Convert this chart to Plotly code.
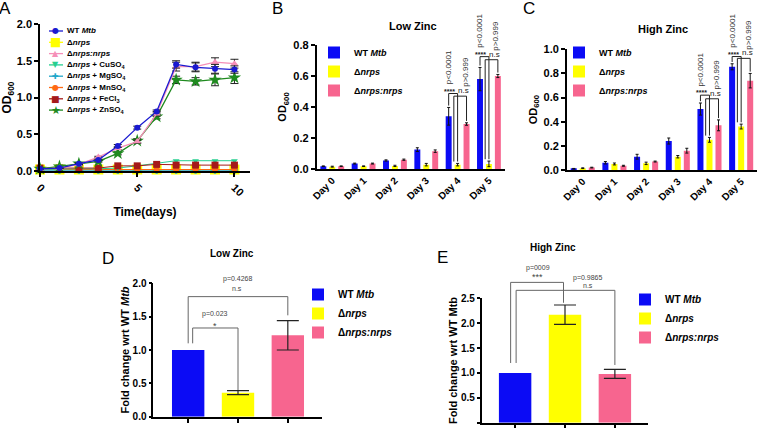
import plotly.graph_objects as go

F = "Liberation Sans, Arial, sans-serif"
W, H = 760, 428

# ---------------- Panel A data (OD600 vs time) ----------------
days_a = [0, 1, 2, 3, 4, 5, 6, 7, 8, 9, 10]
od_wt = [0.03, 0.04, 0.10, 0.15, 0.34, 0.59, 0.81, 1.45, 1.41, 1.39, 1.38]
od_wt_err = [0.005, 0.005, 0.01, 0.01, 0.02, 0.02, 0.02, 0.05, 0.06, 0.06, 0.05]
od_nrps = [0.02, 0.02, 0.02, 0.02, 0.02, 0.02, 0.02, 0.02, 0.02, 0.02, 0.02]
od_comp = [0.03, 0.04, 0.09, 0.19, 0.31, 0.40, 0.78, 1.42, 1.42, 1.48, 1.46]
od_comp_err = [0.005, 0.005, 0.01, 0.01, 0.02, 0.02, 0.03, 0.06, 0.06, 0.06, 0.06]
od_cu = [0.02, 0.03, 0.03, 0.03, 0.04, 0.07, 0.11, 0.14, 0.14, 0.14, 0.14]
od_mg = [0.01, 0.01, 0.01, 0.01, 0.01, 0.01, 0.01, 0.01, 0.01, 0.01, 0.01]
od_mn = [0.02, 0.02, 0.02, 0.02, 0.02, 0.02, 0.02, 0.02, 0.02, 0.02, 0.02]
od_fe = [0.04, 0.04, 0.04, 0.04, 0.07, 0.07, 0.09, 0.08, 0.08, 0.08, 0.08]
od_zn = [0.03, 0.06, 0.10, 0.13, 0.24, 0.41, 0.74, 1.24, 1.22, 1.24, 1.27]
od_zn_err = [0.005, 0.005, 0.01, 0.01, 0.02, 0.03, 0.03, 0.05, 0.05, 0.08, 0.08]

a_labels = ["WT <i>Mtb</i>", "Δ<i>nrps</i>", "Δ<i>nrps:nrps</i>",
            "Δ<i>nrps</i> + CuSO<sub>4</sub>", "Δ<i>nrps</i> + MgSO<sub>4</sub>",
            "Δ<i>nrps</i> + MnSO<sub>4</sub>", "Δ<i>nrps</i> + FeCl<sub>3</sub>",
            "Δ<i>nrps</i> + ZnSO<sub>4</sub>"]

# ---------------- Panels B/C data (daily OD600) ----------------
day_labels = ["Day 0", "Day 1", "Day 2", "Day 3", "Day 4", "Day 5"]
day_idx = [0, 1, 2, 3, 4, 5]
bar_labels = ["WT <i>Mtb</i>", "Δ<i>nrps</i>", "Δ<i>nrps:nrps</i>"]

low_wt = [0.018, 0.035, 0.055, 0.125, 0.34, 0.58]
low_wt_err = [0.002, 0.003, 0.004, 0.012, 0.057, 0.075]
low_nrps = [0.015, 0.018, 0.02, 0.028, 0.028, 0.033]
low_nrps_err = [0.003, 0.002, 0.004, 0.008, 0.008, 0.018]
low_comp = [0.018, 0.035, 0.06, 0.115, 0.29, 0.60]
low_comp_err = [0.002, 0.003, 0.004, 0.008, 0.008, 0.01]

high_wt = [0.01, 0.06, 0.11, 0.24, 0.505, 0.855]
high_wt_err = [0.003, 0.01, 0.02, 0.025, 0.05, 0.025]
high_nrps = [0.015, 0.05, 0.055, 0.11, 0.25, 0.36]
high_nrps_err = [0.003, 0.008, 0.01, 0.01, 0.02, 0.02]
high_comp = [0.02, 0.035, 0.07, 0.16, 0.37, 0.74]
high_comp_err = [0.003, 0.004, 0.004, 0.02, 0.045, 0.06]

# ---------------- Panels D/E data (fold change) ----------------
strain_idx = [0, 1, 2]
fold_low = [1.0, 0.36, 1.22]
fold_low_err = [0.0, 0.03, 0.22]
fold_high = [1.0, 2.17, 0.98]
fold_high_err = [0.0, 0.195, 0.09]

# significance annotations
sig_low = [  # day, from-bar, to-bar, bracket height, mark, p-text, p-text bar
    (4, 0, 1, 0.487, "****", "p&lt;0.0001", 0),
    (4, 1, 2, 0.470, "n.s", "p&gt;0.999", 2),
    (5, 0, 1, 0.725, "****", "p&lt;0.0001", 0),
    (5, 1, 2, 0.705, "n.s", "p&gt;0.999", 2),
]
sig_high = [
    (4, 0, 1, 0.62, "****", "p&lt;0.0001", 0),
    (4, 1, 2, 0.59, "n.s", "p&gt;0.999", 2),
    (5, 0, 1, 0.94, "****", "p&lt;0.0001", 0),
    (5, 1, 2, 0.925, "n.s", "p&gt;0.999", 2),
]

BLUE = "#0b0bf5"
YEL = "#ffff00"
PINK = "#f7658f"


def px(x):
    return x / W


def py(y):
    return 1 - y / H


fig = go.Figure()

# ---------------- Panel A traces ----------------
a_styles = [  # draw order: back to front
    (1, od_nrps, None, YEL, "square", 10, 1.0),
    (4, od_mg, None, "#22a7c9", "cross", 6, 1.0),
    (5, od_mn, None, "#ff6a13", "circle", 6, 1.0),
    (3, od_cu, None, "#27cf90", "triangle-down", 6, 1.0),
    (6, od_fe, None, "#a51919", "square", 7, 1.0),
    (7, od_zn, od_zn_err, "#1f8a1f", "star", 10, 1.3),
    (2, od_comp, od_comp_err, "#f58fb8", "triangle-up", 7, 1.3),
    (0, od_wt, od_wt_err, "#1a1ad0", "circle", 6, 1.3),
]
for idx, ys, err, col, sym, size, lw in a_styles:
    fig.add_trace(go.Scatter(
        x=days_a, y=ys, mode="lines+markers", xaxis="x", yaxis="y",
        line=dict(color=col, width=lw),
        marker=dict(color=col, symbol=sym, size=size, line=dict(width=0)),
        error_y=(dict(type="data", array=err, color="#222", thickness=1, width=4)
                 if err else None),
        cliponaxis=False, showlegend=False, name=a_labels[idx]))

# ---------------- Panels B/C traces ----------------
off = [-0.285, 0.0, 0.285]
bw = 0.19
cols = [BLUE, YEL, PINK]
for panel, (vals, errs, xa, ya, lg) in enumerate([
    ([low_wt, low_nrps, low_comp], [low_wt_err, low_nrps_err, low_comp_err], "x2", "y2", "legend"),
    ([high_wt, high_nrps, high_comp], [high_wt_err, high_nrps_err, high_comp_err], "x3", "y3", "legend2"),
]):
    for i in range(3):
        fig.add_trace(go.Bar(
            x=day_idx, y=vals[i], xaxis=xa, yaxis=ya, name=bar_labels[i],
            offset=off[i] - bw / 2, width=bw, marker=dict(color=cols[i], line=dict(width=0)),
            error_y=dict(type="data", array=errs[i], color="#111", thickness=1, width=1.5),
            legend=lg))

# ---------------- Panels D/E traces ----------------
for vals, errs, xa, ya, lg in [
    (fold_low, fold_low_err, "x4", "y4", "legend3"),
    (fold_high, fold_high_err, "x5", "y5", "legend4"),
]:
    for i in range(3):
        fig.add_trace(go.Bar(
            x=[strain_idx[i]], y=[vals[i]], xaxis=xa, yaxis=ya, name=bar_labels[i],
            width=0.65, marker=dict(color=cols[i], line=dict(width=0)),
            error_y=dict(type="data", array=[errs[i]], color="#222", thickness=1.2, width=11,
                         visible=errs[i] > 0),
            legend=lg))

# ---------------- axes ----------------
def ax_style(**kw):
    d = dict(showline=True, linecolor="black", linewidth=1.6, ticks="outside",
             tickcolor="black", tickwidth=1.5, ticklen=4, showgrid=False,
             zeroline=False, automargin=False,
             tickfont=dict(family=F, size=11, color="black", weight="bold"))
    d.update(kw)
    return d


ttl = lambda t, s, st: dict(text=t, font=dict(family=F, size=s, color="black", weight="bold"), standoff=st)

fig.update_layout(
    width=W, height=H, margin=dict(l=0, r=0, t=0, b=0),
    plot_bgcolor="white", paper_bgcolor="white", barmode="overlay",
    font=dict(family=F, color="black"),
    xaxis=ax_style(domain=[px(40), px(250)], range=[0, 10.8], anchor="y",
                   tickvals=[0, 5, 10], tickangle=45, title=ttl("Time(days)", 12, 10)),
    yaxis=ax_style(domain=[py(171), py(24)], range=[0, 2.0], anchor="x",
                   dtick=0.5, tickformat=".1f", title=ttl("OD<sub>600</sub>", 12, 4)),
    xaxis2=ax_style(domain=[px(316.6), px(504.6)], range=[-0.5, 5.5], anchor="y2",
                    tickvals=day_idx, ticktext=day_labels, tickangle=-45, ticks="",
                    tickfont=dict(family=F, size=10, color="black", weight="bold")),
    yaxis2=ax_style(domain=[py(169), py(45)], range=[0, 0.8], anchor="x2",
                    dtick=0.2, tickformat=".1f", title=ttl("OD<sub>600</sub>", 11, 4)),
    xaxis3=ax_style(domain=[px(566.9), px(757)], range=[-0.5, 5.5], anchor="y3",
                    tickvals=day_idx, ticktext=day_labels, tickangle=-45, ticks="",
                    tickfont=dict(family=F, size=10, color="black", weight="bold")),
    yaxis3=ax_style(domain=[py(170), py(49.3)], range=[0, 1.0], anchor="x3",
                    dtick=0.2, tickformat=".1f", title=ttl("OD<sub>600</sub>", 11, 4)),
    xaxis4=ax_style(domain=[px(153.3), px(321.7)], range=[-0.7, 2.68], anchor="y4",
                    tickvals=strain_idx, showticklabels=False, ticklen=4),
    yaxis4=ax_style(domain=[py(416.7), py(283.3)], range=[0, 2.0], anchor="x4",
                    dtick=0.5, tickformat=".1f", ticklen=3,
                    tickfont=dict(family=F, size=10, color="black", weight="bold"),
                    title=ttl("Fold change wrt WT <i>Mtb</i>", 11, 1)),
    xaxis5=ax_style(domain=[px(481.7), px(648.3)], range=[-0.67, 2.67], anchor="y5",
                    tickvals=strain_idx, showticklabels=False, ticklen=4),
    yaxis5=ax_style(domain=[py(422.7), py(298.3)], range=[0, 2.5], anchor="x5",
                    dtick=0.5, tickformat=".1f", ticklen=3,
                    tickfont=dict(family=F, size=10, color="black", weight="bold"),
                    title=ttl("Fold change wrt WT Mtb", 11, 1)),
)

leg = lambda x, y, s: dict(x=px(x), y=py(y), xanchor="left", yanchor="top",
                           bgcolor="rgba(0,0,0,0)", tracegroupgap=0,
                           font=dict(family=F, size=s, color="black", weight="bold"))
fig.update_layout(legend=leg(314, 38, 9), legend2=leg(559, 38, 9),
                  legend3=leg(298, 280, 10), legend4=leg(625, 285, 10))

ann = []
shapes = []

# panel letters and titles
for t, x, y in [("A", 5, 8), ("B", 277, 8), ("C", 529, 8), ("D", 108, 258), ("E", 442, 257)]:
    ann.append(dict(text=t, x=px(x), y=py(y), xref="paper", yref="paper", showarrow=False,
                    xanchor="center", yanchor="middle", font=dict(family=F, size=17, color="black")))
for t, x, y, s in [("Low Zinc", 413, 26, 11), ("High Zinc", 663, 29, 11),
                   ("Low Zinc", 232, 253, 10), ("High Zinc", 553, 247, 10)]:
    ann.append(dict(text=t, x=px(x), y=py(y), xref="paper", yref="paper", showarrow=False,
                    xanchor="center", yanchor="middle",
                    font=dict(family=F, size=s, color="black", weight="bold")))

# Panel A legend (manual, compact)
a_key = [  # label index, color, glyph, glyph size
    (0, "#1a1ad0", "●", 8), (1, YEL, "■", 12), (2, "#f58fb8", "▲", 8),
    (3, "#27cf90", "▼", 8), (4, "#22a7c9", "✚", 8), (5, "#ff6a13", "●", 8),
    (6, "#a51919", "■", 9), (7, "#1f8a1f", "★", 11),
]
for k, (li, col, g, gs) in enumerate(a_key):
    yk = 31 + 11.3 * k
    shapes.append(dict(type="line", xref="paper", yref="paper", x0=px(49), x1=px(63),
                       y0=py(yk), y1=py(yk), line=dict(color=col, width=1.3)))
    ann.append(dict(text=g, x=px(56), y=py(yk), xref="paper", yref="paper", showarrow=False,
                    xanchor="center", yanchor="middle",
                    font=dict(family="DejaVu Sans", size=gs, color=col)))
    ann.append(dict(text=a_labels[li], x=px(65), y=py(yk), xref="paper", yref="paper",
                    showarrow=False, xanchor="left", yanchor="middle",
                    font=dict(family=F, size=8, color="black", weight="bold")))

# B/C significance brackets
for sigs, vals, errs, xa, ya, gap in [
    (sig_low, [low_wt, low_nrps, low_comp], [low_wt_err, low_nrps_err, low_comp_err], "x2", "y2", 0.012),
    (sig_high, [high_wt, high_nrps, high_comp], [high_wt_err, high_nrps_err, high_comp_err], "x3", "y3", 0.015),
]:
    for d, a, b, top, mark, ptxt, pbar in sigs:
        xa0 = d + off[a] + (-0.12 if a == 1 else 0)
        xb0 = d + off[b]
        ya0 = vals[a][d] + errs[a][d] + gap
        yb0 = vals[b][d] + errs[b][d] + gap
        for (x0, y0, x1, y1) in [(xa0, ya0, xa0, top), (xa0, top, xb0, top), (xb0, top, xb0, yb0)]:
            shapes.append(dict(type="line", xref=xa, yref=ya, x0=x0, y0=y0, x1=x1, y1=y1,
                               line=dict(color="#222", width=1)))
        mx = d + off[a] + 0.03 if mark == "****" else d + off[b] - 0.1
        ann.append(dict(text=mark, x=mx, y=top, xref=xa, yref=ya, showarrow=False,
                        xanchor="center", yanchor="bottom", yshift=(-3 if mark == "****" else -1),
                        font=dict(family=F, size=(7 if mark == "****" else 8), color="#222",
                                  weight=("bold" if mark == "****" else "normal"))))
        ann.append(dict(text=ptxt, x=d + off[pbar] - (0.06 if pbar == 2 else 0), y=top,
                        xref=xa, yref=ya, showarrow=False,
                        textangle=-90, xanchor="center", yanchor="bottom", yshift=7,
                        font=dict(family=F, size=8, color="#333")))

# D/E significance brackets (positions in data units)
sig_d = [  # x0, x1, top, bottom0, bottom1
    (0.0, 2.0, 1.80, 1.10, 1.52),
    (0.09, 1.0, 1.33, 1.10, 0.40),
]
lab_d = [(0.98, 2.06, "p=0.4268", 7), (0.98, 1.915, "n.s", 7),
         (0.53, 1.54, "p=0.023", 7), (0.53, 1.36, "*", 9)]
sig_e = [
    (-0.09, 0.97, 2.82, 1.20, 2.41),
    (0.02, 2.0, 2.66, 1.20, 1.16),
]
lab_e = [(0.45, 3.11, "p=0009", 7), (0.45, 2.93, "***", 9),
         (1.46, 2.91, "p=0.9865", 7), (1.46, 2.75, "n.s", 7)]
for sig, lab, xa, yid, ymax in [(sig_d, lab_d, "x4", "y4", 2.0), (sig_e, lab_e, "x5", "y5", 2.5)]:
    for x0, x1, top, b0, b1 in sig:
        for (u0, v0, u1, v1) in [(x0, b0, x0, top), (x0, top, x1, top), (x1, top, x1, b1)]:
            shapes.append(dict(type="line", xref=xa, yref=yid + " domain", x0=u0, x1=u1,
                               y0=v0 / ymax, y1=v1 / ymax, line=dict(color="#666", width=1)))
    for x, y, t, s in lab:
        ann.append(dict(text=t, x=x, y=y / ymax, xref=xa, yref=yid + " domain", showarrow=False,
                        xanchor="center", yanchor="middle", font=dict(family=F, size=s, color="#444")))

fig.update_layout(annotations=ann, shapes=shapes)
fig.write_html("out.html", config={"displayModeBar": False},
               post_script="document.body.style.margin='0';document.body.style.overflow='hidden';")
